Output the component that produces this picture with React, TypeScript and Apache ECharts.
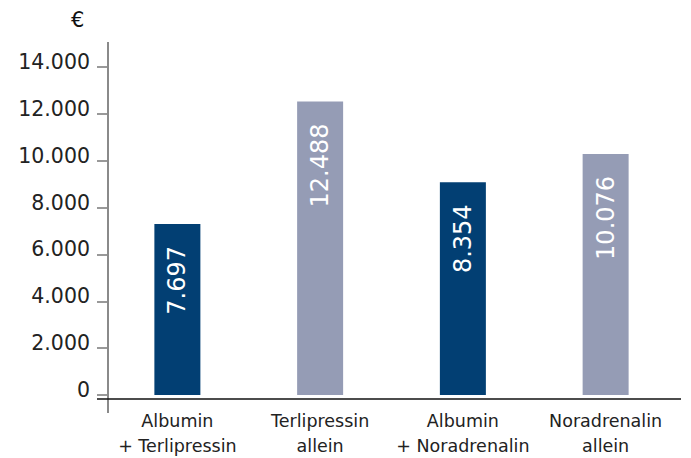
import React, { useEffect, useRef } from "react";
import * as echarts from "echarts";

const categories = ["Albumin\n+ Terlipressin", "Terlipressin\nallein", "Albumin\n+ Noradrenalin", "Noradrenalin\nallein"];
const barHeights = [7300, 12530, 9076, 10290];
const barLabels = ["7.697", "12.488", "8.354", "10.076"];
const barColors = ["#023f73", "#959cb5", "#023f73", "#959cb5"];
const yTickValues = [0, 2000, 4000, 6000, 8000, 10000, 12000, 14000];
const yTickLabels = ["0", "2.000", "4.000", "6.000", "8.000", "10.000", "12.000", "14.000"];
const unitLabel = "€";

const FONT = "'DejaVu Sans', sans-serif";

export default function App() {
  const ref = useRef<HTMLDivElement>(null);
  useEffect(() => {
    if (!ref.current) return;
    const chart = echarts.init(ref.current, undefined, { renderer: "svg" });
    chart.setOption({
      animation: false,
      title: {
        text: unitLabel,
        left: 66,
        top: 4,
        textStyle: { fontFamily: FONT, fontSize: 21, fontWeight: "normal", color: "#111" },
      },
      grid: { left: 106, right: 14, top: 67, bottom: 59, containLabel: false },
      xAxis: {
        type: "category",
        data: categories,
        axisLine: { show: false },
        axisTick: { show: false },
        axisLabel: {
          interval: 0,
          fontFamily: FONT,
          fontSize: 17.5,
          lineHeight: 25,
          margin: 13,
          color: "#222",
        },
      },
      yAxis: {
        type: "value",
        min: 0,
        max: 14000,
        interval: 2000,
        offset: -2,
        splitLine: { show: false },
        axisLine: { show: false },
        axisTick: { show: true, length: 11, lineStyle: { color: "#777", width: 1.5 } },
        axisLabel: {
          margin: 18,
          fontFamily: FONT,
          fontSize: 20.5,
          color: "#222",
          verticalAlign: "bottom",
          lineHeight: 10,
          formatter: (v: number) => {
            const i = yTickValues.indexOf(v);
            return i >= 0 ? yTickLabels[i] : "";
          },
        },
      },
      series: [
        {
          type: "bar",
          barWidth: 46,
          data: barHeights.map((v, i) => ({ value: v, itemStyle: { color: barColors[i] } })),
          label: {
            show: true,
            position: "insideTop",
            rotate: 90,
            align: "right",
            verticalAlign: "middle",
            distance: 22,
            fontFamily: FONT,
            fontSize: 24,
            color: "#ffffff",
            formatter: (p: any) => barLabels[p.dataIndex],
          },
        },
      ],
      graphic: [
        {
          type: "line",
          z: 10,
          shape: { x1: 108, y1: 42, x2: 108, y2: 413 },
          style: { stroke: "#8a8a8a", lineWidth: 2 },
        },
        {
          type: "line",
          z: 11,
          shape: { x1: 97, y1: 399, x2: 681, y2: 399 },
          style: { stroke: "#111", lineWidth: 1.3 },
        },
      ],
    });
    return () => chart.dispose();
  }, []);
  return (
    <div
      ref={ref}
      style={{ position: "fixed", left: 0, top: 0, width: 691, height: 458, background: "#fff" }}
    />
  );
}
